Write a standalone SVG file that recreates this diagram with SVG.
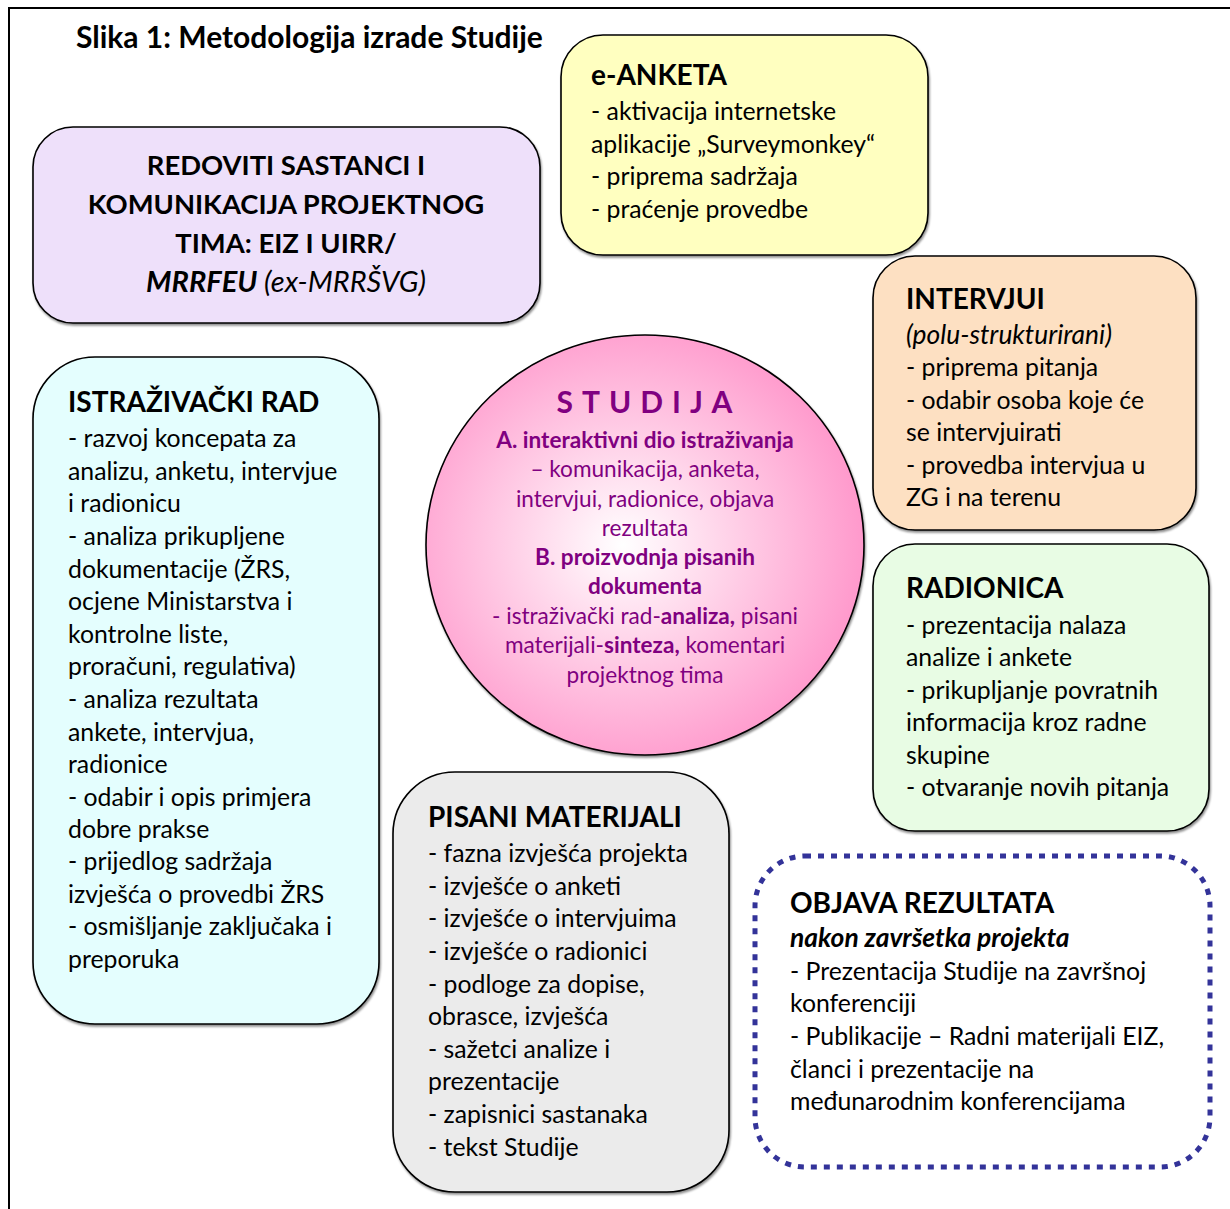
<svg xmlns="http://www.w3.org/2000/svg" width="1230" height="1209" viewBox="0 0 1230 1209">
<defs>
<style>
text{font-family:Lato,"Liberation Sans",sans-serif;font-size:24.8px;fill:#000}
.b{font-weight:bold}
.h{font-weight:bold;font-size:28px}
.i{font-style:italic;font-size:26.4px}
.r{font-weight:bold;font-size:27.4px}
.box{stroke:#000;stroke-width:1.6;filter:url(#sh)}
.c text{fill:#800080;font-size:22.6px}
</style>
<filter id="sh" x="-5%" y="-5%" width="110%" height="110%">
<feDropShadow dx="1" dy="2" stdDeviation="1" flood-color="#000" flood-opacity="0.45"/>
</filter>
<radialGradient id="pink" cx="0.45" cy="0.5" r="0.55">
<stop offset="0" stop-color="#ffffff"/>
<stop offset="1" stop-color="#ff99cc"/>
</radialGradient>
</defs>
<rect width="1230" height="1209" fill="#fff"/>
<path d="M9,1209 V8 H1230" fill="none" stroke="#000" stroke-width="2"/>
<text x="76" y="48" class="b" style="font-size:30px">Slika 1: Metodologija izrade Studije</text>

<g id="eanketa">
<rect class="box" x="561" y="35" width="367" height="220" rx="42" fill="#ffffc0"/>
<text x="591" y="85" class="h">e-ANKETA</text>
<text x="591" y="120">- aktivacija internetske</text>
<text x="591" y="153">aplikacije „Surveymonkey“</text>
<text x="591" y="185">- priprema sadržaja</text>
<text x="591" y="218">- praćenje provedbe</text>
</g>

<g id="sastanci">
<rect class="box" x="33" y="127" width="507" height="196" rx="40" fill="#eee0fa"/>
<g text-anchor="middle">
<text x="286" y="175" class="r">REDOVITI SASTANCI I</text>
<text x="286" y="214" class="r">KOMUNIKACIJA PROJEKTNOG</text>
<text x="286" y="253" class="r">TIMA: EIZ I UIRR/</text>
<text x="286" y="292" style="font-size:29px;font-style:italic"><tspan font-weight="bold">MRRFEU</tspan> (ex-MRRŠVG)</text>
</g>
</g>

<g id="intervjui">
<rect class="box" x="873" y="256" width="323" height="274" rx="42" fill="#fde0c2"/>
<text x="906" y="309" class="h">INTERVJUI</text>
<text x="906" y="344" class="i">(polu-strukturirani)</text>
<text x="906" y="376">- priprema pitanja</text>
<text x="906" y="409">- odabir osoba koje će</text>
<text x="906" y="441">se intervjuirati</text>
<text x="906" y="474">- provedba intervjua u</text>
<text x="906" y="506">ZG i na terenu</text>
</g>

<g id="radionica">
<rect class="box" x="873" y="544" width="336" height="287" rx="42" fill="#e8fce4"/>
<text x="906" y="598" class="h">RADIONICA</text>
<text x="906" y="634">- prezentacija nalaza</text>
<text x="906" y="666">analize i ankete</text>
<text x="906" y="699">- prikupljanje povratnih</text>
<text x="906" y="731">informacija kroz radne</text>
<text x="906" y="764">skupine</text>
<text x="906" y="796">- otvaranje novih pitanja</text>
</g>

<g id="istrazivacki">
<rect class="box" x="33" y="357" width="346" height="667" rx="62" fill="#e4fefe"/>
<text x="68" y="412" class="h">ISTRAŽIVAČKI RAD</text>
<text x="68" y="447">- razvoj koncepata za</text>
<text x="68" y="480">analizu, anketu, intervjue</text>
<text x="68" y="512">i radionicu</text>
<text x="68" y="545">- analiza prikupljene</text>
<text x="68" y="578">dokumentacije (ŽRS,</text>
<text x="68" y="610">ocjene Ministarstva i</text>
<text x="68" y="643">kontrolne liste,</text>
<text x="68" y="675">proračuni, regulativa)</text>
<text x="68" y="708">- analiza rezultata</text>
<text x="68" y="741">ankete, intervjua,</text>
<text x="68" y="773">radionice</text>
<text x="68" y="806">- odabir i opis primjera</text>
<text x="68" y="838">dobre prakse</text>
<text x="68" y="870">- prijedlog sadržaja</text>
<text x="68" y="903">izvješća o provedbi ŽRS</text>
<text x="68" y="935">- osmišljanje zaključaka i</text>
<text x="68" y="968">preporuka</text>
</g>

<g id="pisani">
<rect class="box" x="393" y="772" width="336" height="420" rx="62" fill="#ebebeb"/>
<text x="428" y="827" class="h">PISANI MATERIJALI</text>
<text x="428" y="862">- fazna izvješća projekta</text>
<text x="428" y="895">- izvješće o anketi</text>
<text x="428" y="927">- izvješće o intervjuima</text>
<text x="428" y="960">- izvješće o radionici</text>
<text x="428" y="993">- podloge za dopise,</text>
<text x="428" y="1025">obrasce, izvješća</text>
<text x="428" y="1058">- sažetci analize i</text>
<text x="428" y="1090">prezentacije</text>
<text x="428" y="1123">- zapisnici sastanaka</text>
<text x="428" y="1156">- tekst Studije</text>
</g>

<g id="objava">
<rect x="755" y="856" width="455" height="311" rx="50" fill="#fff" stroke="#333399" stroke-width="5" stroke-dasharray="6 7"/>
<text x="790" y="913" class="h">OBJAVA REZULTATA</text>
<text x="790" y="947" class="b i">nakon završetka projekta</text>
<text x="790" y="980">- Prezentacija Studije na završnoj</text>
<text x="790" y="1012">konferenciji</text>
<text x="790" y="1045">- Publikacije – Radni materijali EIZ,</text>
<text x="790" y="1078">članci i prezentacije na</text>
<text x="790" y="1110">međunarodnim konferencijama</text>
</g>

<g id="studija" class="c">
<ellipse cx="645" cy="545" rx="219" ry="210" fill="url(#pink)" stroke="#000" stroke-width="1.6" filter="url(#sh)"/>
<g text-anchor="middle">
<text x="649" y="413" style="font-size:30px;font-weight:bold;letter-spacing:9px">STUDIJA</text>
<text x="645" y="448" class="b">A. interaktivni dio istraživanja</text>
<text x="645" y="477">– komunikacija, anketa,</text>
<text x="645" y="507">intervjui, radionice, objava</text>
<text x="645" y="536">rezultata</text>
<text x="645" y="565" class="b">B. proizvodnja pisanih</text>
<text x="645" y="594" class="b">dokumenta</text>
<text x="645" y="624">- istraživački rad-<tspan font-weight="bold">analiza,</tspan> pisani</text>
<text x="645" y="653">materijali-<tspan font-weight="bold">sinteza,</tspan> komentari</text>
<text x="645" y="683">projektnog tima</text>
</g>
</g>
</svg>
